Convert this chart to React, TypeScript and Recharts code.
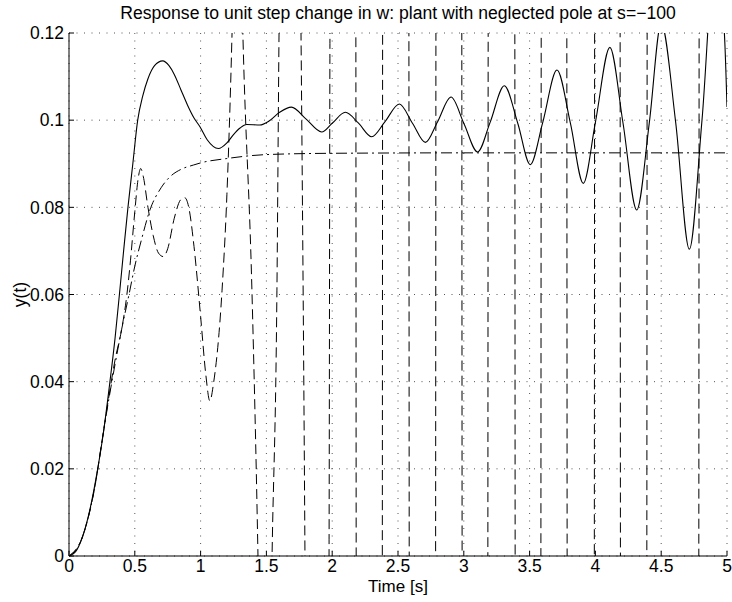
import { CartesianGrid, Line, LineChart, XAxis, YAxis } from "recharts";

const xTicks = [0, 0.5, 1, 1.5, 2, 2.5, 3, 3.5, 4, 4.5, 5];
const yTicks = [0, 0.02, 0.04, 0.06, 0.08, 0.1, 0.12];

// solid: response with the neglected pole
const solidPoints: [number, number][] = [
  [0, 0], [0.05, 0.001], [0.1, 0.0042], [0.15, 0.0095], [0.218, 0.02], [0.26, 0.028],
  [0.311, 0.04], [0.35, 0.05], [0.383, 0.06], [0.415, 0.07], [0.448, 0.08], [0.485, 0.09],
  [0.522, 0.1], [0.56, 0.1055], [0.6, 0.1095], [0.65, 0.1125], [0.712, 0.1136], [0.76, 0.1125],
  [0.8, 0.1105], [0.85, 0.107], [0.9, 0.1035], [0.95, 0.1005], [0.995, 0.0985], [1.05, 0.0955],
  [1.135, 0.0935], [1.2, 0.0948], [1.25, 0.0967], [1.3, 0.0982], [1.35, 0.099], [1.45, 0.0989],
  [1.52, 0.0998], [1.6, 0.1018], [1.69, 0.103], [1.8, 0.1003], [1.92, 0.0973], [2.0, 0.0993],
  [2.1, 0.1018], [2.2, 0.0993], [2.3, 0.0962], [2.4, 0.0996], [2.51, 0.1037], [2.61, 0.0993],
  [2.708, 0.0949], [2.8, 0.0996], [2.903, 0.1053], [3.0, 0.0993], [3.105, 0.0927], [3.2, 0.0995],
  [3.308, 0.1079], [3.41, 0.0993], [3.505, 0.0898], [3.6, 0.0995], [3.708, 0.1115], [3.81, 0.0993],
  [3.908, 0.0855], [4.0, 0.0995], [4.11, 0.1167], [4.21, 0.0993], [4.314, 0.0794], [4.41, 0.0995],
  [4.5, 0.1222], [4.61, 0.0995], [4.714, 0.0704], [4.81, 0.1], [4.91, 0.138], [4.98, 0.12],
  [5.0, 0.103],
];

// dash-dot: nominal plant response
const dashDotPoints: [number, number][] = [
  [0, 0], [0.1, 0.0042], [0.15, 0.0093], [0.2, 0.0165], [0.25, 0.0262], [0.3, 0.0355],
  [0.35, 0.044], [0.4, 0.052], [0.456, 0.06], [0.5, 0.0665], [0.55, 0.0725], [0.615, 0.0794],
  [0.7, 0.0845], [0.767, 0.087], [0.85, 0.0887], [0.945, 0.0897], [1.0, 0.0902], [1.2, 0.0912],
  [1.5, 0.0921], [2.0, 0.0924], [3.0, 0.0925], [5.0, 0.0925],
];

// dashed: unstable case, leaves the axes after ~1.2 s
const dashedPoints: [number, number | null][] = [
  [0, 0], [0.1, 0.0042], [0.15, 0.0093], [0.2, 0.0165], [0.25, 0.0262], [0.3, 0.036],
  [0.35, 0.045], [0.4, 0.052], [0.44, 0.06], [0.464, 0.0668], [0.5, 0.079], [0.525, 0.0865],
  [0.545, 0.0889], [0.565, 0.087], [0.6, 0.08], [0.64, 0.0735], [0.68, 0.0695], [0.717, 0.0687],
  [0.75, 0.0705], [0.8, 0.0775], [0.85, 0.0818], [0.88, 0.0822], [0.91, 0.08], [0.95, 0.071],
  [1.0, 0.055], [1.04, 0.0415], [1.07, 0.0356], [1.1, 0.04], [1.163, 0.061], [1.2, 0.083],
  [1.239, 0.12], [1.255, 0.14], [1.28, 0.16], [1.305, 0.14], [1.321, 0.12], [1.39, 0.061],
  [1.436, 0], [1.445, -0.015], [1.49, -0.04], [1.535, -0.015], [1.543, 0], [1.58, 0.061],
  [1.596, 0.12], [1.603, 0.14], [1.68, 0.2], [1.757, 0.14], [1.763, 0.12], [1.793, 0],
  [1.797, -0.02], [1.88, -0.1], [1.972, -0.02], [1.976, 0], [1.983, 0.12], [1.987, 0.14],
  [2.09, 0.3], [2.179, 0.14], [2.183, -0.02], [2.28, -0.3], [2.38, -0.02], [2.384, 0.14],
  [2.48, 0.3], [2.582, 0.14], [2.586, -0.02], [2.69, -0.3], [2.785, -0.02], [2.789, 0.14],
  [2.89, 0.3], [2.984, 0.14], [2.988, -0.02], [3.09, -0.3], [3.182, -0.02], [3.186, 0.14],
  [3.29, 0.3], [3.387, 0.14], [3.391, -0.02], [3.49, -0.3], [3.585, -0.02], [3.589, 0.14],
  [3.69, 0.3], [3.782, 0.14], [3.786, -0.02], [3.89, -0.3], [3.991, -0.02], [3.995, 0.14],
  [4.09, 0.3], [4.187, 0.14], [4.191, -0.02], [4.29, -0.3], [4.39, -0.02], [4.394, 0.14],
  [4.49, 0.3], [4.59, null], [4.69, -0.3], [4.785, -0.02], [4.789, 0.14], [4.9, 0.3],
  [5.0, 0.3],
];

const rows = (pts: [number, number | null][]) => pts.map(([t, y]) => ({ t, y }));

const axisStyle = { stroke: "#000" };
const tickFont = { fill: "#000", fontSize: 17.5 };

export default function App() {
  return (
    <div
      style={{
        position: "absolute",
        left: 0,
        top: 0,
        width: 732,
        height: 602,
        background: "#fff",
        fontFamily: "'Liberation Sans', Arial, sans-serif",
      }}
    >
      <LineChart width={732} height={602} margin={{ top: 33, right: 5, bottom: 0, left: 0 }}>
        <CartesianGrid stroke="#555" strokeDasharray="1 6.5" />
        <XAxis
          dataKey="t"
          type="number"
          domain={[0, 5]}
          ticks={xTicks}
          interval={0}
          allowDataOverflow
          height={46}
          tickSize={-5}
          tickMargin={9}
          axisLine={axisStyle}
          tickLine={axisStyle}
          tick={tickFont}
        />
        <XAxis
          xAxisId="top"
          orientation="top"
          type="number"
          domain={[0, 5]}
          ticks={xTicks}
          interval={0}
          height={0}
          tickSize={-5}
          tick={false}
          axisLine={axisStyle}
          tickLine={axisStyle}
        />
        <YAxis
          type="number"
          domain={[0, 0.12]}
          ticks={yTicks}
          interval={0}
          allowDataOverflow
          width={69}
          tickSize={-5}
          tickMargin={10}
          axisLine={axisStyle}
          tickLine={axisStyle}
          tick={tickFont}
        />
        <YAxis
          yAxisId="right"
          orientation="right"
          type="number"
          domain={[0, 0.12]}
          ticks={yTicks}
          interval={0}
          width={0}
          tickSize={-5}
          tick={false}
          axisLine={axisStyle}
          tickLine={axisStyle}
        />
        <Line
          data={rows(dashDotPoints)}
          dataKey="y"
          type="monotone"
          stroke="#000"
          strokeWidth={1}
          strokeDasharray="11 4 2 4"
          dot={false}
          activeDot={false}
          isAnimationActive={false}
        />
        <Line
          data={rows(dashedPoints)}
          dataKey="y"
          type="monotone"
          stroke="#000"
          strokeWidth={1}
          strokeDasharray="10 5"
          dot={false}
          activeDot={false}
          isAnimationActive={false}
        />
        <Line
          data={rows(solidPoints)}
          dataKey="y"
          type="monotone"
          stroke="#000"
          strokeWidth={1.1}
          dot={false}
          activeDot={false}
          isAnimationActive={false}
        />
      </LineChart>
      <svg
        width={732}
        height={602}
        style={{ position: "absolute", left: 0, top: 0, pointerEvents: "none" }}
      >
        <text x={398} y={19} textAnchor="middle" fontSize={17.6}>
          Response to unit step change in w: plant with neglected pole at s=−100
        </text>
        <text x={398} y={592} textAnchor="middle" fontSize={17}>
          Time [s]
        </text>
        <text transform="translate(26 294.5) rotate(-90)" textAnchor="middle" fontSize={17.5}>
          y(t)
        </text>
      </svg>
    </div>
  );
}
